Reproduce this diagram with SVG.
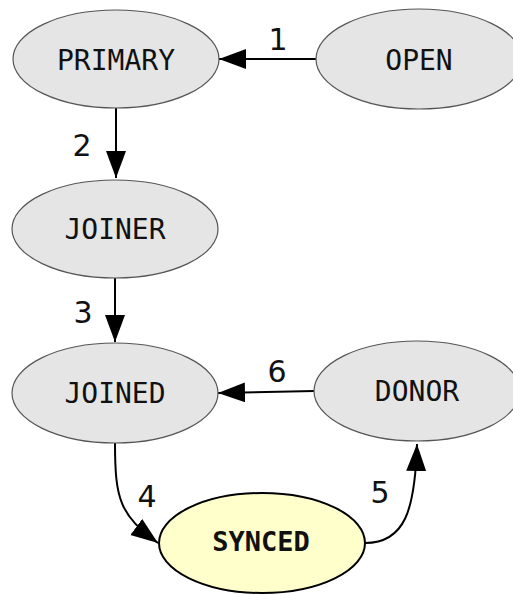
<svg xmlns="http://www.w3.org/2000/svg" width="513" height="595" viewBox="0 0 513 595">
<defs>
<style>
.node{fill:#e5e5e5;stroke:#555;stroke-width:1.2}
.hl{fill:#ffffcc;stroke:#000;stroke-width:2}
.lbl{font-family:"DejaVu Sans Mono",monospace;font-size:28px;text-anchor:middle;fill:#111}
.blbl{font-family:"DejaVu Sans Mono",monospace;font-size:27px;font-weight:bold;text-anchor:middle;fill:#111}
.edge{fill:none;stroke:#000;stroke-width:2}
.elbl{font-family:"DejaVu Sans",sans-serif;font-size:30px;text-anchor:middle;fill:#111}
</style>
<marker id="ah" markerUnits="userSpaceOnUse" markerWidth="30" markerHeight="22" refX="27" refY="10" orient="auto" viewBox="0 0 30 22">
<path d="M0,0 L27,10 L0,20 z" fill="#000"/>
</marker>
</defs>
<rect width="513" height="595" fill="#fff"/>
<g id="connectors">
<path class="edge" d="M316,59 L219,59" marker-end="url(#ah)"/>
<text class="elbl" x="278" y="50">1</text>
<path class="edge" d="M116,108 L116,178" marker-end="url(#ah)"/>
<text class="elbl" x="82" y="156">2</text>
<path class="edge" d="M115,278 L115,342" marker-end="url(#ah)"/>
<text class="elbl" x="83" y="323">3</text>
<path class="edge" d="M314,391 L218,393" marker-end="url(#ah)"/>
<text class="elbl" x="277" y="382">6</text>
<path class="edge" d="M115,443 C115,500 120,515 158,543" marker-end="url(#ah)"/>
<text class="elbl" x="147" y="507">4</text>
<path class="edge" d="M365,543 C405,543 415,510 417,444" marker-end="url(#ah)"/>
<text class="elbl" x="380" y="503">5</text>
</g>
<g id="PRIMARY"><ellipse class="node" cx="116" cy="59" rx="103" ry="49"/><text class="lbl" x="116" y="70">PRIMARY</text></g>
<g id="OPEN"><ellipse class="node" cx="419" cy="59" rx="103" ry="50"/><text class="lbl" x="419" y="70">OPEN</text></g>
<g id="JOINER"><ellipse class="node" cx="115" cy="229" rx="103" ry="49"/><text class="lbl" x="115" y="239">JOINER</text></g>
<g id="JOINED"><ellipse class="node" cx="115" cy="393" rx="103" ry="50"/><text class="lbl" x="115" y="403">JOINED</text></g>
<g id="DONOR"><ellipse class="node" cx="417" cy="391" rx="103" ry="50"/><text class="lbl" x="417" y="401">DONOR</text></g>
<g id="SYNCED"><ellipse class="hl" cx="262" cy="543" rx="103" ry="50"/><text class="blbl" x="261" y="551">SYNCED</text></g>
</svg>
